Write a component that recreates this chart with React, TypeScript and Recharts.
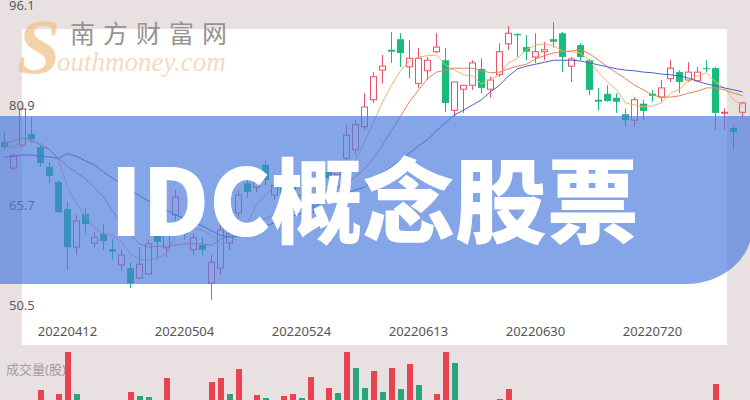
import React from 'react';
import { ComposedChart, BarChart, Bar, Line, XAxis, YAxis, Cell } from 'recharts';

// x axis: one category per trading day, labels on every 13th day
const tickIndex = [7, 20, 33, 46, 59, 72];
const tickLabels = ['20220412', '20220504', '20220524', '20220613', '20220630', '20220720'];
const priceTicks = [96.1, 80.9, 65.7, 50.5];

const opens = [
  75.3, 71.3, 74.8, 76.5, 74.5, 71.5, 69.2, 65.1, 59.3, 64.3,
  59.9, 61.3, 59.0, 56.6, 56.1, 54.6, 55.2, 61.0, 59.2, 64.2,
  62.2, 58.9, 59.6, 53.8, 56.1, 59.9, 64.5, 69.0, 68.4, 71.8,
  67.2, 68.3, 69.5, 65.7, 64.6, 68.0, 70.7, 70.3, 72.8, 74.1,
  77.6, 81.7, 86.2, 89.3, 90.9, 86.7, 84.2, 86.1, 89.0, 87.7,
  80.1, 83.3, 83.9, 86.4, 83.3, 85.5, 90.2, 91.7, 89.7, 88.2,
  89.0, 90.9, 91.8, 86.8, 90.0, 87.7, 81.7, 82.6, 82.0, 79.5,
  78.6, 81.1, 82.6, 82.1, 84.9, 85.9, 84.7, 84.6, 86.5, 86.5,
  79.7, 77.4, 79.8,
];
const highs = [
  76.8, 73.5, 80.7, 79.1, 74.8, 72.2, 69.5, 66.2, 64.2, 65.2,
  61.6, 62.8, 60.5, 58.9, 56.9, 59.3, 60.4, 61.6, 62.4, 68.0,
  63.1, 61.4, 60.8, 58.1, 62.7, 62.2, 68.0, 69.8, 70.7, 72.5,
  69.5, 69.0, 70.1, 68.0, 66.5, 68.6, 71.3, 72.5, 77.9, 78.6,
  82.7, 85.9, 88.5, 92.0, 91.8, 90.8, 89.6, 88.2, 91.8, 89.6,
  84.4, 83.9, 87.7, 88.0, 85.2, 90.3, 92.9, 91.8, 91.5, 91.8,
  90.5, 93.5, 92.0, 88.2, 90.3, 87.9, 83.5, 83.9, 82.7, 80.4,
  82.1, 81.7, 83.2, 84.7, 87.7, 86.2, 87.4, 86.7, 87.7, 86.7,
  80.4, 77.7, 81.4,
];
const lows = [
  74.1, 71.0, 74.5, 75.1, 71.5, 69.0, 64.5, 55.8, 58.1, 61.4,
  59.2, 58.9, 57.3, 55.8, 53.1, 54.5, 55.1, 57.6, 57.8, 63.4,
  60.4, 58.1, 58.0, 51.3, 55.1, 58.9, 63.7, 66.8, 67.7, 68.7,
  66.5, 66.2, 67.2, 64.9, 64.0, 66.2, 68.7, 69.5, 72.5, 73.3,
  77.1, 81.2, 84.2, 87.3, 86.7, 85.0, 83.5, 84.7, 88.8, 79.8,
  79.1, 79.7, 83.2, 82.7, 82.0, 85.2, 89.3, 88.2, 87.7, 87.3,
  87.7, 89.6, 85.9, 84.4, 87.7, 82.4, 80.1, 81.4, 79.7, 77.6,
  77.6, 78.6, 81.4, 81.4, 84.4, 82.7, 84.4, 84.4, 85.9, 77.1,
  77.1, 74.1, 78.9,
];
const closes = [
  74.5, 73.2, 80.3, 75.7, 72.1, 70.1, 64.6, 59.3, 63.3, 62.8,
  60.8, 60.2, 58.6, 58.1, 53.8, 56.7, 59.8, 60.1, 61.6, 66.9,
  61.3, 60.7, 58.9, 57.0, 61.9, 61.4, 67.2, 67.7, 70.0, 69.5,
  68.7, 67.1, 68.0, 67.2, 65.7, 66.8, 69.8, 71.8, 76.3, 77.9,
  80.6, 85.2, 86.8, 89.0, 88.8, 88.0, 88.0, 87.7, 89.7, 81.2,
  84.4, 83.9, 87.3, 83.5, 84.7, 89.0, 91.8, 91.5, 89.0, 89.0,
  89.3, 90.5, 88.2, 87.9, 88.2, 83.2, 81.4, 81.5, 81.4, 78.6,
  81.7, 80.0, 82.3, 83.5, 86.5, 84.4, 85.9, 85.9, 86.4, 79.7,
  79.8, 76.8, 81.2,
];

const ma5 = [
  74.8, 74.4, 75.6, 75.3, 75.1, 74.2, 72.5, 68.4, 65.9, 64.0,
  62.2, 61.3, 61.1, 60.1, 58.3, 57.5, 57.3, 57.6, 58.4, 61.0,
  61.9, 62.1, 61.9, 61.0, 59.9, 59.9, 61.3, 63.1, 65.7, 67.2,
  68.6, 68.6, 68.6, 68.1, 67.4, 66.9, 67.5, 68.3, 70.1, 72.5,
  75.3, 78.3, 81.4, 83.9, 86.1, 87.6, 88.2, 88.4, 88.5, 87.0,
  86.2, 85.5, 85.3, 84.1, 84.7, 85.6, 87.3, 88.0, 89.3, 90.0,
  90.2, 89.9, 89.1, 89.0, 88.8, 87.6, 85.8, 84.4, 83.2, 81.2,
  80.9, 80.6, 80.8, 81.2, 82.7, 83.3, 84.6, 85.3, 85.8, 84.4,
  83.5, 81.7, 80.8,
];
const ma10 = [
  75.1, 75.4, 75.9, 75.6, 74.8, 74.1, 72.8, 71.6, 70.6, 69.7,
  68.3, 66.9, 64.8, 63.0, 61.1, 59.8, 59.3, 59.5, 59.3, 59.6,
  59.8, 59.8, 59.8, 59.6, 60.5, 61.0, 61.8, 62.5, 63.3, 63.6,
  64.3, 64.9, 65.9, 66.9, 67.2, 67.8, 68.0, 68.4, 69.0, 70.0,
  71.2, 72.8, 74.8, 77.0, 79.2, 81.4, 83.2, 84.9, 85.9, 86.2,
  86.5, 86.5, 86.5, 86.1, 85.8, 85.9, 86.4, 86.8, 87.1, 87.9,
  88.4, 88.8, 89.0, 89.1, 89.3, 88.7, 87.7, 86.7, 85.8, 84.9,
  83.9, 83.2, 82.4, 82.1, 82.1, 82.3, 82.7, 83.0, 83.5, 83.5,
  83.2, 82.7, 82.3,
];
const ma20 = [
  73.0, 73.1, 73.3, 73.3, 73.1, 73.0, 72.8, 73.5, 73.1, 72.4,
  71.8, 70.7, 69.8, 68.9, 68.0, 67.1, 66.3, 65.7, 64.9, 64.2,
  63.6, 63.1, 62.5, 61.8, 61.1, 60.8, 61.0, 61.4, 62.1, 62.5,
  63.0, 63.4, 64.0, 64.5, 65.1, 65.9, 66.5, 66.9, 67.4, 68.0,
  68.4, 69.5, 70.6, 71.5, 72.5, 73.6, 74.7, 75.6, 77.0, 78.2,
  79.4, 80.1, 80.9, 81.7, 82.9, 83.9, 85.3, 86.4, 86.8, 87.1,
  87.4, 87.7, 87.7, 87.7, 87.6, 87.3, 87.0, 86.7, 86.4, 86.2,
  86.1, 85.9, 85.8, 85.6, 85.5, 85.3, 85.0, 84.5, 84.1, 83.8,
  83.5, 83.2, 82.9,
];

// volume panel is cut off by the bottom edge, only the tall bars show
const volumes = [
  35, 30, 45, 38, 60, 40, 56, 98, 56, 42,
  30, 33, 28, 36, 58, 54, 53, 40, 72, 44,
  35, 30, 32, 68, 72, 56, 81, 40, 55, 52,
  38, 54, 56, 52, 73, 42, 62, 57, 98, 82,
  62, 79, 58, 82, 61, 86, 65, 44, 56, 98,
  87, 40, 45, 42, 38, 51, 61, 40, 35, 36,
  30, 38, 44, 34, 32, 45, 38, 30, 28, 35,
  40, 30, 26, 32, 42, 36, 34, 30, 28, 66,
  40, 44, 36,
];
const volUp = [
  0, 1, 1, 0, 1, 0, 1, 1, 0, 0,
  1, 0, 0, 1, 1, 0, 0, 0, 1, 1,
  0, 1, 0, 1, 1, 0, 1, 0, 1, 0,
  1, 1, 1, 0, 1, 0, 1, 0, 1, 0,
  0, 1, 0, 1, 0, 1, 0, 1, 1, 1,
  0, 1, 1, 0, 1, 1, 1, 0, 0, 1,
  1, 0, 0, 1, 0, 0, 0, 0, 0, 0,
  1, 0, 0, 1, 1, 0, 1, 1, 0, 1,
  1, 0, 1,
];

const UP = '#ec5068';
const DOWN = '#18bb7c';
const FONT = "'Noto Sans', 'Noto Sans CJK SC', sans-serif";

const data = opens.map((open, i) => ({
  i,
  open,
  high: highs[i],
  low: lows[i],
  close: closes[i],
  ma5: ma5[i],
  ma10: ma10[i],
  ma20: ma20[i],
}));

const volData = volumes.map((v, i) => ({ i, v, up: volUp[i] }));

const Candle = (props: any) => {
  const { x, y, width, height, payload } = props;
  const { open, close, high, low } = payload;
  const up = close >= open;
  const color = up ? UP : DOWN;
  const top = Math.min(y, y + height);
  const h = Math.abs(height);
  const k = h / (high - low);
  const cx = Math.round(x + width / 2) - 0.5;
  const bTop = top + (high - Math.max(open, close)) * k;
  const bBot = top + (high - Math.min(open, close)) * k;
  const bh = Math.max(bBot - bTop, 1);
  if (up) {
    return (
      <g>
        <line x1={cx} x2={cx} y1={top} y2={bTop} stroke={color} />
        <line x1={cx} x2={cx} y1={bTop + bh} y2={top + h} stroke={color} />
        <rect x={cx - 3} y={bTop} width={6} height={bh} fill="none" stroke={color} />
      </g>
    );
  }
  return (
    <g>
      <line x1={cx} x2={cx} y1={top} y2={top + h} stroke={color} />
      <rect x={cx - 3.5} y={bTop} width={7} height={bh} fill={color} />
    </g>
  );
};

const YTick = ({ y, payload }: any) => (
  <text x={9} y={y} dy={4.5} fill="#5c5c5c" fontSize={13} fontFamily={FONT}>
    {payload.value}
  </text>
);

const XTick = ({ x, y, payload }: any) => {
  const k = tickIndex.indexOf(payload.value);
  return (
    <text x={x} y={y} dy={4.5} textAnchor="middle" fill="#555" fontSize={13} fontFamily={FONT}>
      {k >= 0 ? tickLabels[k] : ''}
    </text>
  );
};

export default function App() {
  return (
    <div
      style={{
        position: 'fixed',
        left: 0,
        top: 0,
        width: 750,
        height: 400,
        overflow: 'hidden',
        background: '#e9e1e1',
      }}
    >
      <div style={{ position: 'absolute', left: 22, top: 29, width: 705, height: 316, background: '#fff' }} />

      <div style={{ position: 'absolute', left: 0, top: 0 }}>
        <ComposedChart width={750} height={345} data={data} margin={{ top: 5, right: 3, bottom: 0, left: 0 }}>
          <XAxis
            dataKey="i"
            ticks={tickIndex}
            interval={0}
            height={40}
            tickSize={0}
            tickMargin={26}
            axisLine={false}
            tickLine={false}
            tick={<XTick />}
          />
          <YAxis
            domain={[50.5, 96.1]}
            ticks={priceTicks}
            interval={0}
            width={40}
            mirror
            tickSize={0}
            axisLine={false}
            tickLine={false}
            allowDataOverflow
            tick={<YTick />}
          />
          <Bar dataKey={(d: any) => [d.low, d.high]} barSize={7} shape={<Candle />} isAnimationActive={false} />
          <Line dataKey="ma5" stroke="#f2b568" strokeWidth={1} dot={false} isAnimationActive={false} />
          <Line dataKey="ma10" stroke="#e9805c" strokeWidth={1} dot={false} isAnimationActive={false} />
          <Line dataKey="ma20" stroke="#4b60c8" strokeWidth={1} dot={false} isAnimationActive={false} />
        </ComposedChart>
      </div>

      <div
        style={{
          position: 'absolute',
          left: 6,
          top: 359,
          fontSize: 13,
          color: '#a39b9b',
          fontFamily: FONT,
          whiteSpace: 'nowrap',
        }}
      >
        成交量(股)
      </div>

      <div style={{ position: 'absolute', left: 0, top: 350 }}>
        <BarChart width={750} height={100} data={volData} margin={{ top: 0, right: 3, bottom: 0, left: 0 }}>
          <XAxis dataKey="i" hide />
          <YAxis domain={[0, 100]} hide />
          <Bar dataKey="v" barSize={6} isAnimationActive={false}>
            {volData.map((d) => (
              <Cell key={d.i} fill={d.up ? '#e8434f' : '#2aa57a'} />
            ))}
          </Bar>
        </BarChart>
      </div>

      {/* watermark */}
      <svg width={750} height={400} style={{ position: 'absolute', left: 0, top: 0 }}>
        <text
          x={17}
          y={73}
          fontSize={78}
          fontStyle="italic"
          fontWeight={700}
          fontFamily="'Liberation Serif', serif"
          fill="#f0c387"
          opacity={0.75}
        >
          S
        </text>
        <text
          x={57}
          y={71}
          fontSize={27}
          fontStyle="italic"
          fontFamily="'Liberation Serif', serif"
          fill="#f3dcbd"
        >
          outhmoney.com
        </text>
        <text
          x={70}
          y={43}
          fontSize={25}
          letterSpacing={8}
          fontFamily="'Noto Sans CJK SC', sans-serif"
          fill="#9a9191"
        >
          南方财富网
        </text>
      </svg>

      <div
        style={{
          position: 'absolute',
          left: 0,
          top: 116,
          width: 752,
          height: 168,
          background: 'rgba(74,123,221,0.68)',
          borderBottomRightRadius: '66px 56px',
        }}
      />

      <svg width={750} height={400} style={{ position: 'absolute', left: 0, top: 0 }}>
        <text
          x={110}
          y={236}
          fontSize={92}
          fontWeight={900}
          fontFamily="'Noto Sans CJK SC', sans-serif"
          fill="#ffffff"
        >
          IDC概念股票
        </text>
      </svg>
    </div>
  );
}
